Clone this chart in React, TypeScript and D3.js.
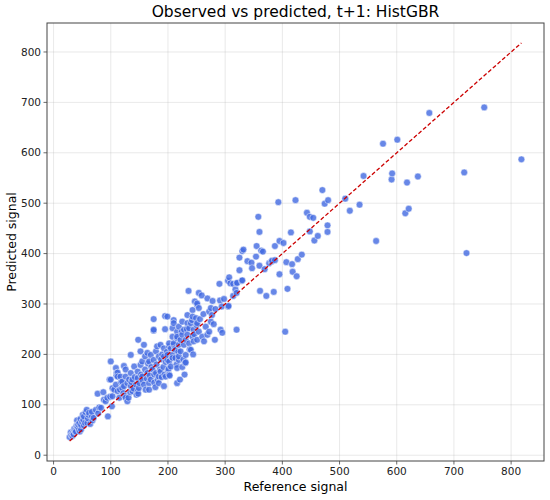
import * as d3 from "d3";

// Reference signal (x) vs predicted signal (y)
const points: [number, number][] = [
  // low cluster
  [28, 36], [30, 45], [31, 40], [33, 38], [34, 44], [35, 41], [36, 52], [37, 49], [38, 46], [39, 47],
  [40, 58], [41, 69], [42, 56], [43, 61], [44, 50], [45, 64], [46, 47], [47, 72], [48, 51], [48, 60],
  [50, 66], [51, 80], [52, 70], [53, 77], [53, 59], [55, 64], [56, 85], [58, 90], [59, 64], [60, 73],
  [61, 80], [62, 84], [64, 62], [67, 77], [67, 86], [68, 69], [70, 74],
  // 70-100
  [74, 90], [77, 122], [78, 83], [80, 95], [83, 94], [87, 125], [88, 110], [91, 107], [94, 114], [95, 77],
  [98, 150], [99, 116], [100, 186], [102, 97], [103, 117],
  // 100-150
  [100, 150], [103, 133], [106, 130], [109, 173], [110, 163], [110, 158], [109, 140], [112, 164], [112, 156], [112, 127],
  [115, 114], [116, 130], [117, 156], [118, 145], [120, 146], [120, 133], [122, 123], [123, 177], [123, 137], [124, 118],
  [126, 170], [126, 156], [126, 114], [129, 143], [129, 107], [131, 114], [132, 150], [134, 125], [135, 199], [135, 163],
  [135, 137], [136, 145], [138, 150], [138, 127], [140, 132], [141, 176], [142, 155], [144, 140], [145, 120], [147, 166],
  [147, 153], [147, 127], [148, 229], [148, 122], [149, 133], [150, 143],
  // 150-200
  [152, 206], [152, 179], [153, 160], [155, 186], [155, 156], [156, 148], [158, 219], [158, 140], [160, 196], [160, 170],
  [161, 130], [163, 152], [164, 203], [164, 163], [165, 182], [167, 186], [167, 143], [167, 130], [168, 158], [170, 199],
  [170, 150], [171, 175], [173, 170], [175, 247], [175, 189], [175, 270], [175, 249], [176, 144], [176, 160], [178, 135],
  [179, 206], [179, 163], [180, 180], [181, 216], [182, 150], [184, 196], [184, 156], [184, 143], [186, 170], [187, 219],
  [187, 166], [188, 190], [189, 155], [190, 200], [192, 175], [193, 212], [193, 196], [193, 137], [194, 160], [195, 276],
  [195, 250], [196, 156], [196, 185], [198, 205], [199, 189], [199, 275], [199, 199], [200, 168],
  // 200-250
  [201, 171], [202, 216], [202, 160], [202, 222], [202, 186], [203, 158], [205, 176], [205, 212], [207, 195], [208, 199],
  [208, 252], [208, 235], [208, 193], [210, 268], [210, 262], [210, 219], [210, 222], [212, 212], [213, 193], [213, 209],
  [215, 180], [216, 232], [216, 245], [216, 173], [216, 143], [216, 235], [218, 205], [219, 189], [219, 255], [219, 219],
  [219, 196], [221, 150], [222, 229], [222, 206], [224, 245], [225, 265], [225, 239], [225, 175], [227, 190], [228, 249],
  [228, 219], [229, 160], [230, 183], [231, 229], [231, 199], [231, 184], [233, 250], [234, 278], [234, 262], [234, 239],
  [236, 326], [237, 252], [237, 222], [238, 210], [240, 262], [240, 209], [242, 268], [243, 288], [243, 275], [243, 235],
  [244, 200], [245, 249], [245, 226], [246, 240], [247, 305], [249, 272], [250, 258],
  // 250-300
  [251, 298], [251, 262], [251, 229], [251, 301], [254, 322], [254, 292], [254, 245], [256, 270], [259, 317], [260, 235],
  [262, 280], [263, 226], [266, 255], [269, 311], [269, 239], [272, 285], [272, 245], [275, 292], [275, 265], [277, 278],
  [278, 306], [280, 260], [282, 229], [283, 290], [290, 340], [291, 307], [292, 249], [294, 295], [295, 243], [298, 310],
  // 300-350
  [305, 346], [305, 295], [306, 296], [307, 353], [309, 341], [314, 340], [314, 316], [318, 329], [320, 341], [320, 322],
  [320, 249], [321, 342], [325, 392], [325, 367], [329, 346], [330, 405], [330, 347], [332, 408], [339, 385], [346, 382],
  [347, 371],
  // 350-450
  [354, 394], [355, 415], [358, 473], [360, 443], [360, 376], [361, 326], [363, 406], [366, 404], [369, 369], [372, 316],
  [377, 381], [381, 384], [382, 386], [385, 324], [387, 387], [387, 415], [393, 502], [395, 359], [395, 425], [402, 421],
  [405, 245], [407, 383], [409, 330], [415, 442], [417, 379], [418, 364], [423, 506], [425, 355], [427, 389], [434, 398],
  [443, 481], [448, 473], [448, 444], [454, 471], [456, 426], [462, 435],
  // 450+
  [470, 526], [474, 499], [479, 456], [479, 443], [480, 506], [510, 509], [518, 485], [535, 497], [542, 554], [564, 425],
  [576, 618], [591, 547], [592, 559], [601, 626], [615, 480], [618, 541], [621, 489], [637, 553], [657, 679], [718, 561],
  [722, 401], [753, 690], [818, 587],
];

const tickValues = [0, 100, 200, 300, 400, 500, 600, 700, 800];

const title = "Observed vs predicted, t+1: HistGBR";
const xLabel = "Reference signal";
const yLabel = "Predicted signal";

const W = 550;
const H = 500;
const margin = { top: 23, right: 6, bottom: 39, left: 47 };
const FONT = "'DejaVu Sans', sans-serif";

export default function App() {
  const iw = W - margin.left - margin.right;
  const ih = H - margin.top - margin.bottom;

  // equal limits on both axes, with 5% padding like matplotlib
  const lo = d3.min(points, (p) => Math.min(p[0], p[1])) as number;
  const hi = d3.max(points, (p) => Math.max(p[0], p[1])) as number;
  const pad = (hi - lo) * 0.05;

  const x = d3.scaleLinear().domain([lo - pad, hi + pad]).range([0, iw]);
  const y = d3.scaleLinear().domain([lo - pad, hi + pad]).range([ih, 0]);

  const diag = d3.line<number>().x((d) => x(d)).y((d) => y(d))([lo, hi]) ?? "";

  return (
    <div style={{ position: "absolute", left: 0, top: 0 }}>
      <svg width={W} height={H} style={{ display: "block", background: "#fff" }}>
        <text x={margin.left + iw / 2} y={17} textAnchor="middle" fontFamily={FONT} fontSize={15.5} fill="#000">
          {title}
        </text>
        <g transform={`translate(${margin.left},${margin.top})`}>
          {/* grid */}
          {tickValues.map((t) => (
            <g key={`g${t}`}>
              <line x1={x(t)} x2={x(t)} y1={0} y2={ih} stroke="#b0b0b0" strokeOpacity={0.35} strokeWidth={0.8} />
              <line x1={0} x2={iw} y1={y(t)} y2={y(t)} stroke="#b0b0b0" strokeOpacity={0.35} strokeWidth={0.8} />
            </g>
          ))}
          {/* points */}
          {points.map((p, i) => (
            <circle
              key={i}
              cx={x(p[0])}
              cy={y(p[1])}
              r={3.4}
              fill="#4169e1"
              fillOpacity={0.8}
              stroke="#fff"
              strokeWidth={0.5}
            />
          ))}
          {/* identity line */}
          <path d={diag} fill="none" stroke="#cc0000" strokeWidth={1.3} strokeDasharray="4,2.2" />
          {/* frame */}
          <rect x={0} y={0} width={iw} height={ih} fill="none" stroke="#444" strokeWidth={1} />
          {/* x axis */}
          {tickValues.map((t) => (
            <g key={`x${t}`} transform={`translate(${x(t)},${ih})`}>
              <line y1={0} y2={3.5} stroke="#444" strokeWidth={0.8} />
              <text y={14} textAnchor="middle" fontFamily={FONT} fontSize={10.5} fill="#222">
                {t}
              </text>
            </g>
          ))}
          {/* y axis */}
          {tickValues.map((t) => (
            <g key={`y${t}`} transform={`translate(0,${y(t)})`}>
              <line x1={0} x2={-3.5} stroke="#444" strokeWidth={0.8} />
              <text x={-6} dy="0.35em" textAnchor="end" fontFamily={FONT} fontSize={10.5} fill="#222">
                {t}
              </text>
            </g>
          ))}
        </g>
        <text x={margin.left + iw / 2} y={491} textAnchor="middle" fontFamily={FONT} fontSize={12.5} fill="#000">
          {xLabel}
        </text>
        <text
          transform={`translate(15.5,${margin.top + ih / 2}) rotate(-90)`}
          textAnchor="middle"
          fontFamily={FONT}
          fontSize={12.5}
          fill="#000"
        >
          {yLabel}
        </text>
      </svg>
    </div>
  );
}
